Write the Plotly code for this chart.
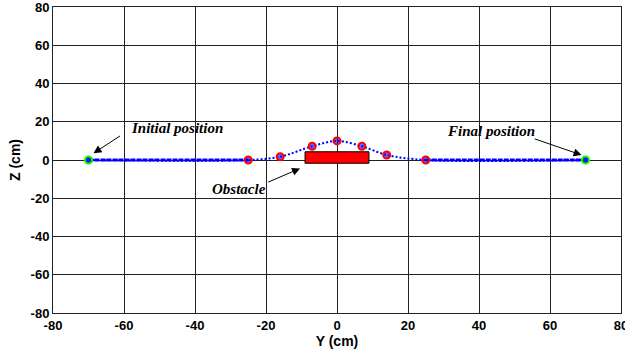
import plotly.graph_objects as go

# Trajectory waypoints (Y, Z) in cm
traj_y = [-70, -25, -16, -7, 0, 7, 14, 25, 70]
traj_z = [0, 0, 1.7, 7.2, 10.0, 7.2, 2.6, 0, 0]

# Via points (red circles)
via_y = [-25, -16, -7, 0, 7, 14, 25]
via_z = [0, 1.7, 7.2, 10.0, 7.2, 2.6, 0]

# Straight segments
flat_left_y = [-70, -25]
flat_right_y = [25, 70]
flat_z = [0, 0]

# Start / end
start_pt = (-70, 0)
end_pt = (70, 0)

# Obstacle bounds
obs_y = [-9, 9]
obs_z = [-1.7, 4.3]

ticks = [-80, -60, -40, -20, 0, 20, 40, 60, 80]

fig = go.Figure()

fig.add_trace(go.Scatter(
    x=[obs_y[0], obs_y[1], obs_y[1], obs_y[0], obs_y[0]],
    y=[obs_z[0], obs_z[0], obs_z[1], obs_z[1], obs_z[0]],
    mode="lines", fill="toself", fillcolor="#ff0000",
    line=dict(color="black", width=1), hoverinfo="skip"))

fig.add_trace(go.Scatter(
    x=traj_y, y=traj_z, mode="lines",
    line=dict(color="#0000ff", width=2, dash="2px,2px", shape="spline", smoothing=0.9)))

for fy in (flat_left_y, flat_right_y):
    fig.add_trace(go.Scatter(
        x=fy, y=flat_z, mode="lines",
        line=dict(color="#0000ff", width=3, dash="5px,1px")))

fig.add_trace(go.Scatter(
    x=via_y, y=via_z, mode="markers",
    marker=dict(symbol="circle", size=7, color="rgba(0,0,255,0.6)",
                line=dict(color="#ff0000", width=2))))

fig.add_trace(go.Scatter(
    x=[start_pt[0], end_pt[0]], y=[start_pt[1], end_pt[1]], mode="markers",
    marker=dict(symbol="circle", size=7, color="#0000ff",
                line=dict(color="#00ff00", width=2))))

serif = dict(family="Liberation Serif", size=15, color="black")
texts = [("<b><i>Initial position</i></b>", -45.2, 16.7),
         ("<b><i>Final position</i></b>", 43.3, 15.3),
         ("<b><i>Obstacle</i></b>", -27.5, -15.2)]
for t, x, y in texts:
    fig.add_annotation(x=x, y=y, text=t, showarrow=False, font=serif)

arrows = [(-68.6, 3.5, -60.7, 13.1),
          (68.9, 2.6, 55.3, 11.3),
          (-10.4, -4.4, -19.8, -11.9)]
for x, y, ax, ay in arrows:
    fig.add_annotation(x=x, y=y, ax=ax, ay=ay, xref="x", yref="y",
                       axref="x", ayref="y", text="", showarrow=True,
                       arrowhead=2, arrowsize=1.6, arrowwidth=1, arrowcolor="black")

axis_common = dict(
    tickvals=ticks, showgrid=True, gridcolor="#222222", gridwidth=1,
    zeroline=False, showline=True, linecolor="#222222", linewidth=1, mirror=True,
    tickfont=dict(family="Liberation Sans", size=13, color="black"),
    ticks="", automargin=False, ticklabeloverflow="allow")

fig.update_xaxes(range=[-80, 80], title=dict(text="<b>Y (cm)</b>", standoff=3,
                 font=dict(family="Liberation Sans", size=14, color="black")),
                 ticktext=[f"<b>{v}</b>" for v in ticks], **axis_common)
fig.update_yaxes(range=[-80, 80], title=dict(text="<b>Z (cm)</b>", standoff=6,
                 font=dict(family="Liberation Sans", size=14, color="black")),
                 ticktext=[f"<b>{v}</b>" for v in ticks], **axis_common)

fig.update_layout(
    width=625, height=350, showlegend=False,
    paper_bgcolor="white", plot_bgcolor="white",
    margin=dict(l=53, r=4, t=7, b=37))

fig.write_html("out.html")
